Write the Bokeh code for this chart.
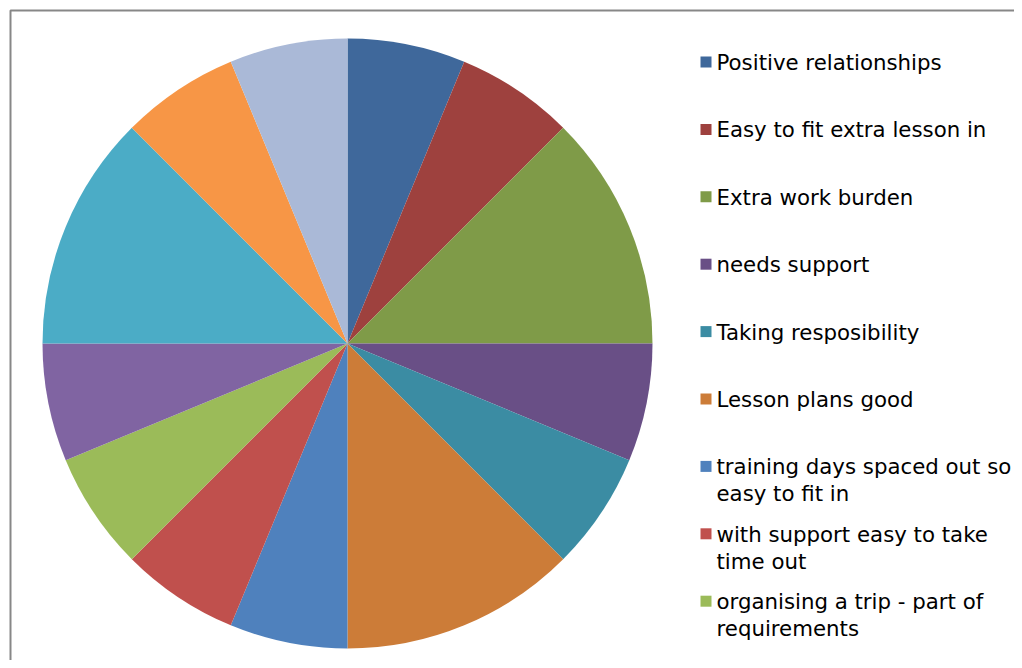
import numpy as np
from bokeh.plotting import figure
from bokeh.models import ColumnDataSource, Range1d, BoxAnnotation
from bokeh.core.properties import value
from bokeh.embed import file_html
from bokeh.resources import INLINE

# ---- data (clockwise from 12 o'clock) ----
categories = [
    "Positive relationships",
    "Easy to fit extra lesson in",
    "Extra work burden",
    "needs support",
    "Taking resposibility",
    "Lesson plans good",
    "training days spaced out so\neasy to fit in",
    "with support easy to take\ntime out",
    "organising a trip -  part of\nrequirements",
    "", "", "", "",
]
values = [1, 1, 2, 1, 1, 2, 1, 1, 1, 1, 2, 1, 1]
colors = ["#3F689B", "#9E413E", "#7F9B48", "#694F86", "#3B8CA3", "#CC7C38",
          "#4F81BD", "#C0504D", "#9BBB59", "#8064A2", "#4BACC6", "#F79646", "#AAB9D7"]
n_legend_visible = 9

# ---- geometry (1 data unit = 1 px) ----
W, H = 1014, 660
cx, cy = 347, 343          # pie centre in canvas px (from left / from top)
R = 305

p = figure(width=W, height=H, output_backend="svg", toolbar_location=None,
           x_range=Range1d(-cx, W - cx), y_range=Range1d(-(H - cy), cy),
           min_border=0, outline_line_color=None)
p.axis.visible = False
p.grid.visible = False
p.background_fill_color = "white"
p.border_fill_color = "white"

vals = np.array(values, dtype=float)
frac = np.cumsum(vals) / vals.sum()
starts = np.concatenate([[0.0], frac[:-1]])
src = ColumnDataSource(dict(
    start=np.pi / 2 - starts * 2 * np.pi,
    end=np.pi / 2 - frac * 2 * np.pi,
    color=colors,
    cat=categories,
))
p.wedge(x=0, y=0, radius=R, start_angle="start", end_angle="end",
        direction="clock", fill_color="color", line_color=None, source=src)

# ---- legend drawn manually (Excel-style, evenly spaced) ----
leg_x = 705.5 - cx         # square centre in data x
first_y = 61.5             # first item centre (canvas px from top)
step = 67.4
idx = np.arange(n_legend_visible)
ycen = cy - (first_y + idx * step)
leg = ColumnDataSource(dict(
    x=[leg_x] * n_legend_visible,
    y=ycen,
    ty=ycen + 12,
    label=categories[:n_legend_visible],
    color=colors[:n_legend_visible],
))
p.scatter(x="x", y="y", marker="square", size=11, fill_color="color",
          line_color=None, source=leg)
p.text(x=leg_x + 10.5, y="ty", text="label", source=leg,
       text_font=value("DejaVu Sans"), text_font_size="21.3px",
       text_color="black", text_baseline="top", text_align="left",
       text_line_height=1.07)

# ---- chart area border (only left and top edges fall inside the canvas) ----
p.add_layout(BoxAnnotation(left=-cx + 10, top=cy - 10,
                           right=W - cx + 40, bottom=-(H - cy) - 40,
                           fill_color=None, fill_alpha=0,
                           line_color="#878787", line_width=2, line_alpha=1))

open("out.html", "w").write(file_html(p, INLINE))
